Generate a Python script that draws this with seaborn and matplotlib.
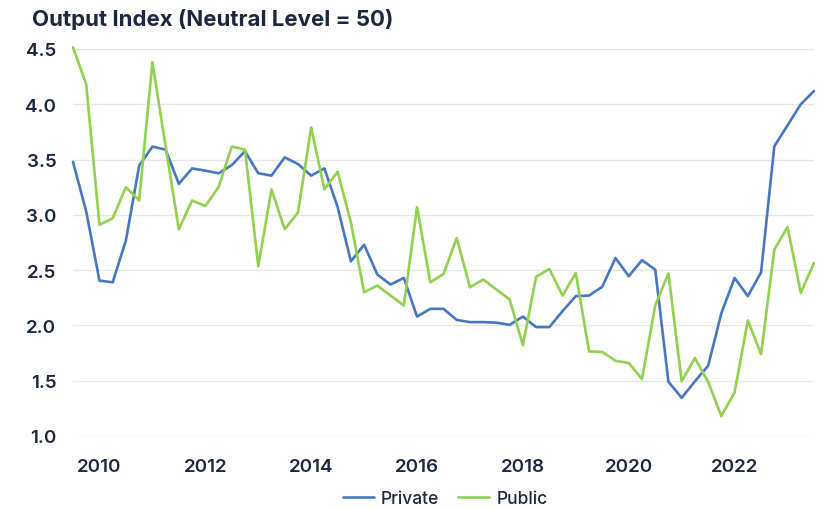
import numpy as np
import pandas as pd
import matplotlib
matplotlib.use("Agg")
import matplotlib.pyplot as plt
import seaborn as sns

# Quarterly output index, Q3 2009 to Q3 2023
quarters = [2009.5 + 0.25 * i for i in range(57)]

private = [3.48, 3.03, 2.405, 2.39, 2.77, 3.445, 3.617, 3.59, 3.28, 3.42,
           3.40, 3.376, 3.45, 3.575, 3.376, 3.355, 3.52, 3.46, 3.355, 3.42,
           3.07, 2.58, 2.73, 2.46, 2.37, 2.43, 2.08, 2.15, 2.15, 2.05,
           2.03, 2.03, 2.025, 2.005, 2.08, 1.985, 1.985, 2.13, 2.265, 2.27,
           2.35, 2.61, 2.445, 2.59, 2.505, 1.49, 1.345, 1.495, 1.635, 2.11,
           2.43, 2.265, 2.48, 3.62, 3.81, 4.00, 4.12]

public = [4.515, 4.18, 2.91, 2.97, 3.25, 3.13, 4.38, 3.62, 2.87, 3.13,
          3.08, 3.25, 3.617, 3.59, 2.535, 3.23, 2.87, 3.02, 3.79, 3.23,
          3.39, 2.93, 2.30, 2.36, 2.27, 2.18, 3.07, 2.39, 2.465, 2.79,
          2.345, 2.415, 2.325, 2.235, 1.82, 2.44, 2.51, 2.27, 2.475, 1.765,
          1.76, 1.68, 1.66, 1.515, 2.18, 2.47, 1.495, 1.705, 1.49, 1.18,
          1.395, 2.045, 1.74, 2.685, 2.89, 2.295, 2.565]

series_names = ["Private", "Public"]
series_colors = ["#4677C0", "#92D050"]
year_ticks = [2010, 2012, 2014, 2016, 2018, 2020, 2022]
value_ticks = [1.0, 1.5, 2.0, 2.5, 3.0, 3.5, 4.0, 4.5]

df = pd.DataFrame({
    "quarter": quarters * 2,
    "value": private + public,
    "sector": [series_names[0]] * len(private) + [series_names[1]] * len(public),
})

sns.set_theme(style="white")
plt.rcParams["font.family"] = ["Inter", "DejaVu Sans"]

text_color = "#1c2840"

fig = plt.figure(figsize=(8.29, 5.10), dpi=100)
ax = fig.add_axes([73 / 829, 1 - 437 / 510, (814 - 73) / 829, (437 - 50) / 510])

sns.lineplot(data=df, x="quarter", y="value", hue="sector",
             palette=dict(zip(series_names, series_colors)),
             linewidth=1.9, ax=ax, legend=True)
for line in ax.lines:
    line.set_clip_on(False)

ax.set_xlim(2009.5, 2023.5)
ax.set_ylim(1.0, 4.5)
ax.set_xticks(year_ticks)
ax.set_xticklabels([str(y) for y in year_ticks])
ax.set_yticks(value_ticks)
ax.set_yticklabels([f"{v:.1f}" for v in value_ticks])
ax.set_xlabel("")
ax.set_ylabel("")

ax.yaxis.grid(True, color="#e6e6e6", linewidth=1.0)
ax.xaxis.grid(False)
for spine in ax.spines.values():
    spine.set_visible(False)

ax.tick_params(axis="both", length=0, labelsize=13.5, labelcolor=text_color)
ax.tick_params(axis="x", pad=16)
ax.tick_params(axis="y", pad=12)
for lbl in ax.get_xticklabels() + ax.get_yticklabels():
    lbl.set_fontweight("semibold")

handles, labels = ax.get_legend_handles_labels()
ax.legend_.remove()
fig.legend(handles, labels, loc="center", bbox_to_anchor=(445 / 829, 1 - 500 / 510),
           ncol=2, frameon=False, fontsize=12.5, handlelength=1.8,
           columnspacing=1.1, handletextpad=0.4, labelcolor=text_color)
for t in fig.legends[0].get_texts():
    t.set_fontweight("medium")

fig.text(32 / 829, 1 - 19 / 510, "Output Index (Neutral Level = 50)",
         fontsize=16, fontweight="bold", color=text_color, va="center", ha="left")

fig.savefig("out.png", dpi=100)
